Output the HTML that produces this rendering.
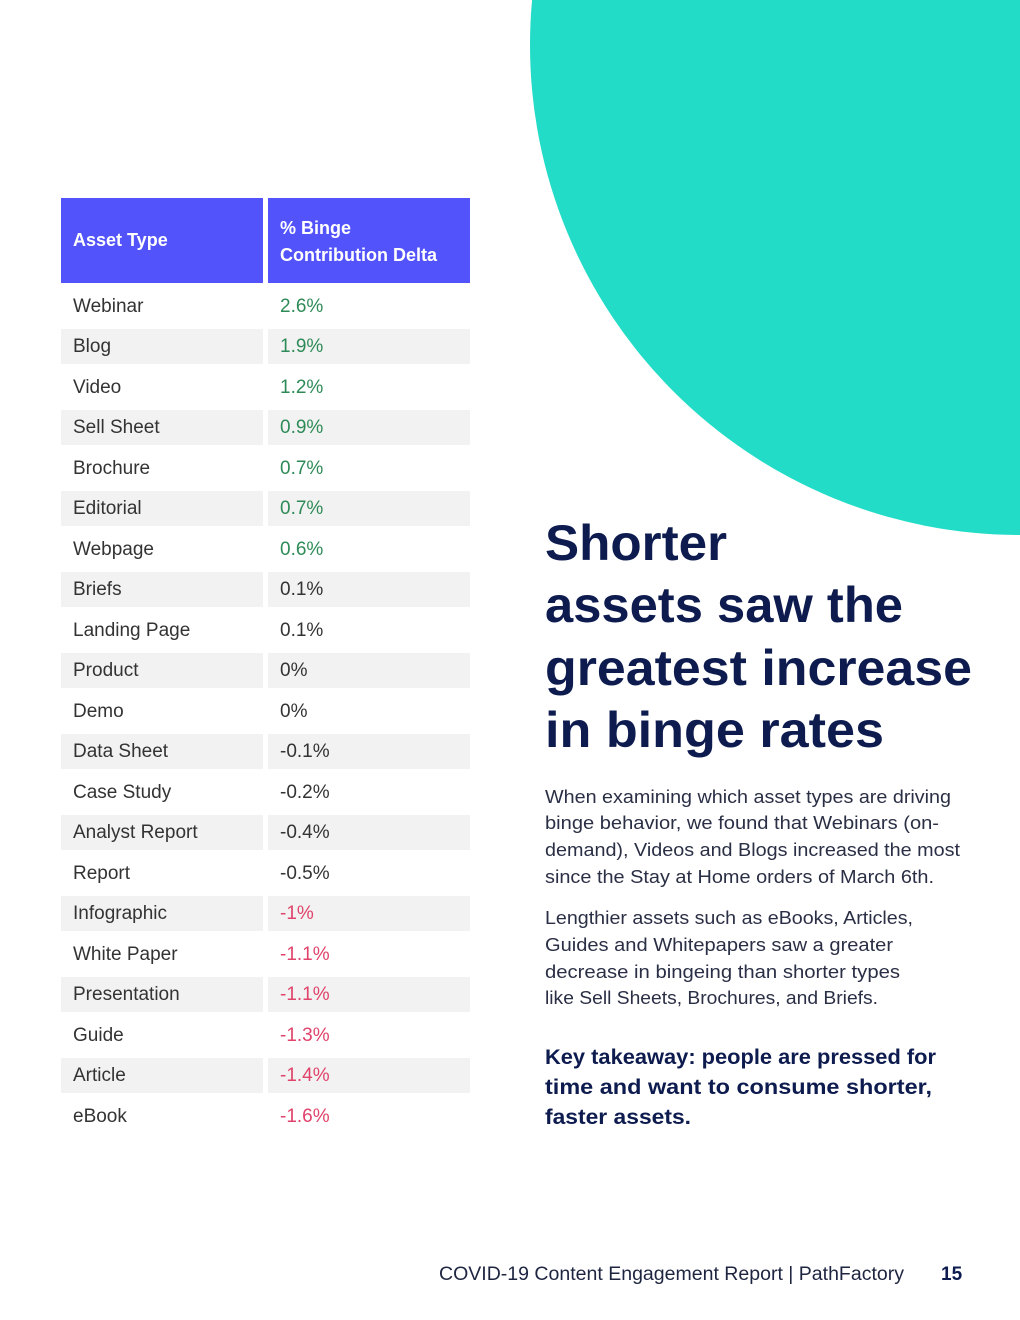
<!DOCTYPE html>
<html><head><meta charset="utf-8"><style>
body{margin:0;width:1020px;height:1320px;background:#fff;position:relative;overflow:hidden;font-family:"Liberation Sans",sans-serif}
.abs{position:absolute}
.hd{background:#5353fb;color:#fff;font-weight:bold;font-size:18px;box-sizing:border-box;padding-left:12px;display:flex;align-items:center;line-height:27px}
.cell{position:absolute;height:35px;line-height:36px;font-size:19px;color:#333;box-sizing:border-box;padding-left:12px}
</style></head><body>
<svg class="abs" style="left:0;top:0" width="1020" height="1320">
<circle cx="1020" cy="45" r="490" fill="#22dcc8"/>
<g fill="#0d1b4f" font-weight="bold" font-size="50" font-family="Liberation Sans, sans-serif">
<text x="545" y="560" textLength="182" lengthAdjust="spacingAndGlyphs">Shorter</text>
<text x="545" y="622" textLength="358" lengthAdjust="spacingAndGlyphs">assets saw the</text>
<text x="545" y="685" textLength="427" lengthAdjust="spacingAndGlyphs">greatest increase</text>
<text x="545" y="747" textLength="339" lengthAdjust="spacingAndGlyphs">in binge rates</text>
</g>
<g fill="#2a2f45" font-size="18" font-family="Liberation Sans, sans-serif">
<text x="545" y="803" textLength="406" lengthAdjust="spacingAndGlyphs">When examining which asset types are driving</text>
<text x="545" y="829" textLength="394" lengthAdjust="spacingAndGlyphs">binge behavior, we found that Webinars (on-</text>
<text x="545" y="856" textLength="415" lengthAdjust="spacingAndGlyphs">demand), Videos and Blogs increased the most</text>
<text x="545" y="883" textLength="389" lengthAdjust="spacingAndGlyphs">since the Stay at Home orders of March 6th.</text>
<text x="545" y="924" textLength="368" lengthAdjust="spacingAndGlyphs">Lengthier assets such as eBooks, Articles,</text>
<text x="545" y="951" textLength="348" lengthAdjust="spacingAndGlyphs">Guides and Whitepapers saw a greater</text>
<text x="545" y="978" textLength="355" lengthAdjust="spacingAndGlyphs">decrease in bingeing than shorter types</text>
<text x="545" y="1004" textLength="333" lengthAdjust="spacingAndGlyphs">like Sell Sheets, Brochures, and Briefs.</text>
</g>
<g fill="#0d1b4f" font-size="21" font-weight="bold" font-family="Liberation Sans, sans-serif">
<text x="545" y="1064" textLength="391" lengthAdjust="spacingAndGlyphs">Key takeaway: people are pressed for</text>
<text x="545" y="1094" textLength="387" lengthAdjust="spacingAndGlyphs">time and want to consume shorter,</text>
<text x="545" y="1124" textLength="146" lengthAdjust="spacingAndGlyphs">faster assets.</text>
</g>
<g font-family="Liberation Sans, sans-serif">
<text x="439" y="1280" font-size="19" fill="#1e2540" textLength="465" lengthAdjust="spacingAndGlyphs">COVID-19 Content Engagement Report | PathFactory</text>
<text x="941" y="1280" font-size="19" font-weight="bold" fill="#0d1b4f">15</text>
</g>
</svg>
<div class="abs hd" style="left:61px;top:198px;width:202px;height:85px">Asset Type</div>
<div class="abs hd" style="left:268px;top:198px;width:202px;height:85px;padding-top:2px">% Binge<br>Contribution Delta</div>
<div id="tbl"></div>
<script>
const assetTypes=["Webinar","Blog","Video","Sell Sheet","Brochure","Editorial","Webpage","Briefs","Landing Page","Product","Demo","Data Sheet","Case Study","Analyst Report","Report","Infographic","White Paper","Presentation","Guide","Article","eBook"];
const deltaValues=[2.6,1.9,1.2,0.9,0.7,0.7,0.6,0.1,0.1,0,0,-0.1,-0.2,-0.4,-0.5,-1,-1.1,-1.1,-1.3,-1.4,-1.6];
const tbl=document.getElementById('tbl');
assetTypes.forEach((name,i)=>{
  const top=288.5+40.5*i;
  const bg=i%2===1?'#f2f2f2':'transparent';
  const a=document.createElement('div');
  
  
  a.className='cell';a.style.left='61px';a.style.width='202px';a.style.top=top+'px';a.style.background=bg;
  a.textContent=name;tbl.appendChild(a);
  const v=deltaValues[i];
  const b=document.createElement('div');
  
  
  b.className='cell';b.style.left='268px';b.style.width='202px';b.style.top=top+'px';b.style.background=bg;
  b.style.color=v>=0.5?'#2e8b57':(v<=-1?'#e0436b':'#333');
  b.textContent=v+'%';tbl.appendChild(b);
});
</script>
</body></html>
